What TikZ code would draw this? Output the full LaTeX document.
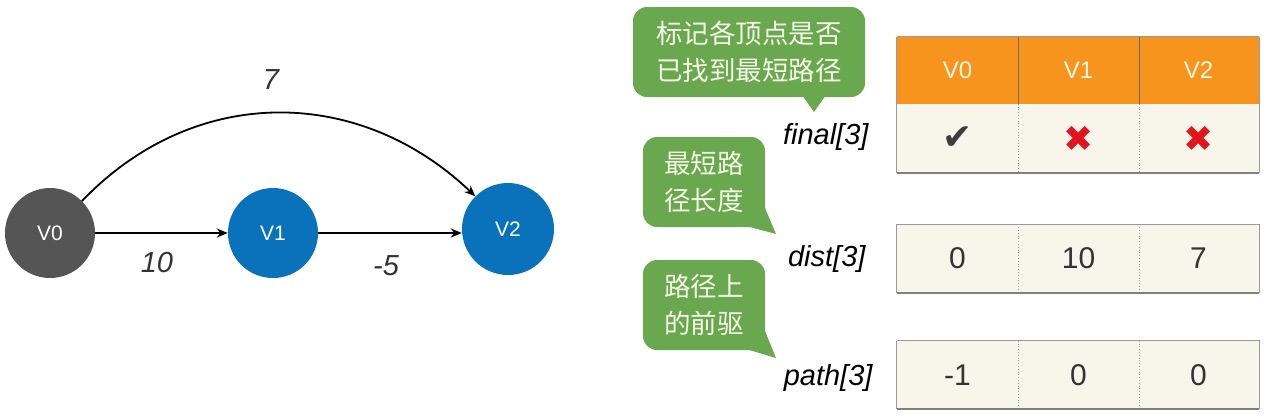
\documentclass[tikz,border=0pt]{standalone}
\usepackage{fontspec}
\setmainfont{Liberation Sans}
\newfontfamily\cjk{Noto Sans CJK SC}
\newfontfamily\symfont{DejaVu Sans}
\usetikzlibrary{arrows.meta}
\definecolor{vgray}{HTML}{555555}
\definecolor{vblue}{HTML}{0A72BA}
\definecolor{horange}{HTML}{F7941D}
\definecolor{cream}{HTML}{F8F6EA}
\definecolor{bgreen}{HTML}{6AA84F}
\definecolor{btext}{HTML}{F6F8E8}
\definecolor{gridgray}{HTML}{9A9A9A}
\definecolor{txtgray}{HTML}{333333}
\definecolor{xred}{HTML}{E3141B}
\definecolor{chk}{HTML}{3D3D3D}
\begin{document}
\begin{tikzpicture}[x=1pt,y=-1pt,
  vtx/.style={circle, inner sep=0pt, minimum size=90pt, text=white, font=\fontsize{21}{21}\selectfont},
  edge/.style={draw=black, line width=1.8pt, -{Stealth[length=11pt,width=9pt]}},
  elabel/.style={font=\itshape\fontsize{29}{29}\selectfont, text=txtgray},
  cell/.style={rectangle, inner sep=0pt, minimum width=121pt, minimum height=68pt, fill=cream, font=\fontsize{30}{30}\selectfont, text=txtgray},
  hcell/.style={cell, fill=horange, minimum height=67pt, text=btext, font=\fontsize{24}{24}\selectfont},
  rowlabel/.style={anchor=east, font=\itshape\fontsize{29}{29}\selectfont, text=black},
  bubble/.style={rectangle, rounded corners=14pt, fill=bgreen, text=btext, align=center, inner sep=0pt, font=\cjk\fontsize{26.5}{37}\selectfont},
  outline/.style={draw=gridgray, line width=0.9pt},
  bottomline/.style={draw=gray, line width=1.6pt},
  sep/.style={draw=gridgray, line width=0.8pt, dotted}
]
\useasboundingbox (0,0) rectangle (1265,416);

% graph
\node[vtx, fill=vgray] (v0) at (50,233) {V0};
\node[vtx, fill=vblue] (v1) at (273,233) {V1};
\node[vtx, fill=vblue, minimum size=92pt] (v2) at (508,229) {V2};
\draw[edge] (v0) -- (v1);
\draw[edge] (v1.east) -- (v1.east -| v2.west);
\draw[edge] (v0.45) .. controls (195,83) and (360,86) .. (v2.135);
\node[elabel] (l10) at (157,263) {10};
\node[elabel] (lm5) at (386,266) {-5};
\node[elabel] (l7) at (271,80) {7};

% table header
\node[hcell] (h0) at (957.5,70.5) {V0};
\node[hcell] (h1) at (1078.5,70.5) {V1};
\node[hcell] (h2) at (1198.5,70.5) {V2};
% final row
\node[cell, minimum height=69pt] (f0) at (957.5,138.5) {};
\node[cell, minimum height=69pt] (f1) at (1078.5,138.5) {};
\node[cell, minimum height=69pt] (f2) at (1198.5,138.5) {};
\node[text=chk, font=\symfont\fontsize{36}{36}\selectfont] (ck) at (f0) {✔};
\node[text=xred, font=\symfont\fontsize{36}{36}\selectfont] (x1) at (f1) {✖};
\node[text=xred, font=\symfont\fontsize{36}{36}\selectfont] (x2) at (f2) {✖};
% dist row
\node[cell] (d0) at (957.5,258.5) {0};
\node[cell] (d1) at (1078.5,258.5) {10};
\node[cell] (d2) at (1198.5,258.5) {7};
% path row
\node[cell] (p0) at (957.5,375) {-1};
\node[cell] (p1) at (1078.5,375) {0};
\node[cell] (p2) at (1198.5,375) {0};

% outlines
\draw[outline] (h0.north west) -- (h2.north east);
\draw[outline] (h0.north west) -- (f0.south west);
\draw[outline] (h2.north east) -- (f2.south east);
\draw[draw=gridgray!70!black, line width=0.6pt] (h0.north east) -- (h0.south east);
\draw[draw=gridgray!70!black, line width=0.6pt] (h1.north east) -- (h1.south east);
\draw[sep] (f0.north east) -- (f0.south east);
\draw[sep] (f1.north east) -- (f1.south east);
\draw[bottomline] (f0.south west) -- (f2.south east);

\draw[outline] (d0.north west) -- (d2.north east) -- (d2.south east);
\draw[outline] (d0.north west) -- (d0.south west);
\draw[sep] (d0.north east) -- (d0.south east);
\draw[sep] (d1.north east) -- (d1.south east);
\draw[bottomline] (d0.south west) -- (d2.south east);

\draw[outline] (p0.north west) -- (p2.north east) -- (p2.south east);
\draw[outline] (p0.north west) -- (p0.south west);
\draw[sep] (p0.north east) -- (p0.south east);
\draw[sep] (p1.north east) -- (p1.south east);
\draw[bottomline] (p0.south west) -- (p2.south east);

% row labels
\node[rowlabel] (lf) at (872,137) {final[3]};
\node[rowlabel] (ld) at (869,259) {dist[3]};
\node[rowlabel] (lp) at (876,378) {path[3]};

% bubbles
\node[bubble, minimum width=232pt, minimum height=90pt] (b1) at (749,52) {标记各顶点是否\\已找到最短路径};
\coordinate (t1) at (814,112);
\fill[bgreen] (802,95) -- (t1) -- (826,95) -- cycle;

\node[bubble, minimum width=122pt, minimum height=90pt] (b2) at (704,182) {最短路\\径长度};
\coordinate (t2) at (776,234);
\fill[bgreen] (746,226) -- (t2) -- (765,208) -- cycle;

\node[bubble, minimum width=122pt, minimum height=90pt] (b3) at (704,305) {路径上\\的前驱};
\coordinate (t3) at (776,358);
\fill[bgreen] (746,349) -- (t3) -- (765,331) -- cycle;
\end{tikzpicture}
\end{document}
